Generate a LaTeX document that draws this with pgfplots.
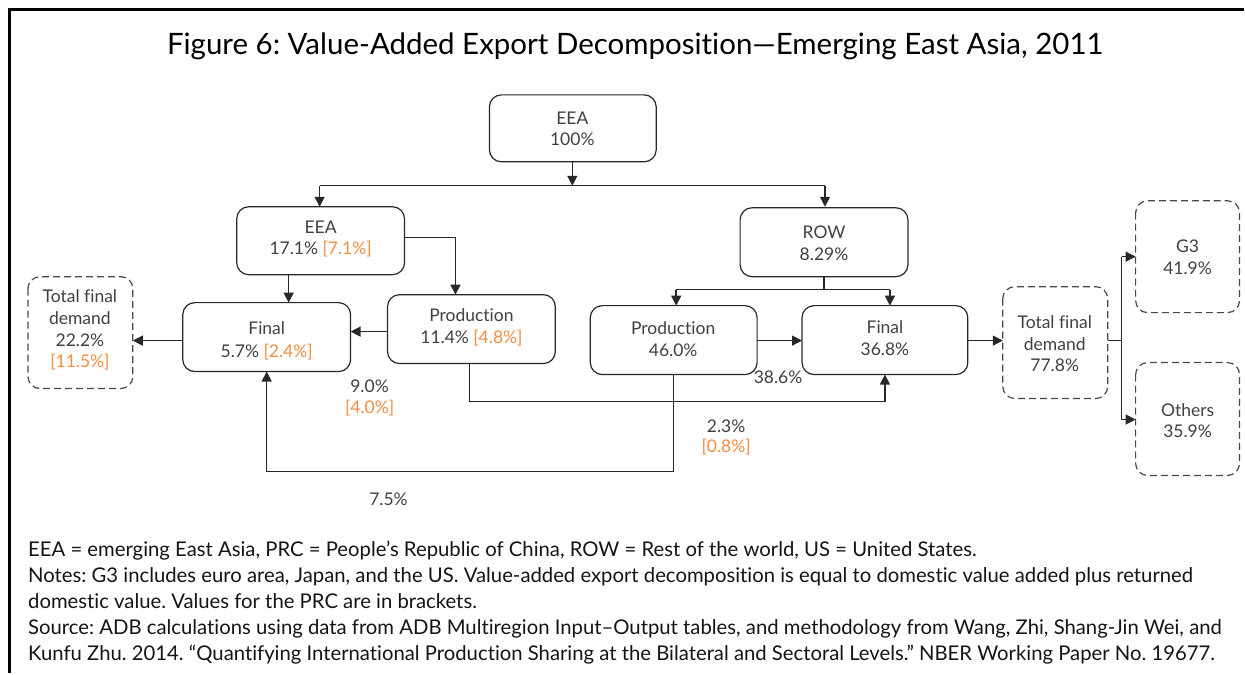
\documentclass[border=0pt]{standalone}
\usepackage{pgfplots}
\pgfplotsset{compat=1.18}
\usepackage{fontspec}
\setmainfont{Lato}[Ligatures={TeX,NoCommon}]
\usetikzlibrary{arrows.meta}
\definecolor{txt}{RGB}{64,64,64}
\definecolor{orng}{RGB}{245,140,65}
\definecolor{ln}{RGB}{40,40,40}
\definecolor{notec}{RGB}{20,20,20}
\frenchspacing
\begin{document}
\begin{tikzpicture}[
 box/.style={draw=ln, line width=1.2pt, rounded corners=12pt},
 dbox/.style={draw=ln!85, line width=1.2pt, rounded corners=12pt, dash pattern=on 7pt off 4pt},
 con/.style={draw=ln, line width=1.4pt},
 arr/.style={con, -{Triangle[length=10pt,width=10pt]}},
 t/.style={anchor=base, inner sep=0pt, text=txt, font=\fontsize{17.5}{20}\selectfont},
 o/.style={t, text=orng},
 nt/.style={anchor=base west, inner sep=0pt, text=notec, font=\fontsize{20.3}{24}\selectfont},
]
\begin{axis}[scale only axis, width=1245pt, height=674pt,
  xmin=0, xmax=1245, ymin=0, ymax=674, y dir=reverse,
  axis lines=none, ticks=none, clip=false]
\path (0,0) rectangle (1245,674);
\draw[line width=3pt, line join=miter] (10,674) -- (10,10) -- (1245,10);
\node[anchor=base, inner sep=0pt, text=black, font=\fontsize{29.5}{32}\selectfont] at (636,55) {Figure 6: Value-Added Export Decomposition—Emerging East Asia, 2011};
% top EEA
\draw[box] (490,95) rectangle (657,162);
\node[t] at (573,125) {EEA};
\node[t] at (573,146) {100\%};
\draw[arr] (573,162) -- (573,186);
\draw[con] (320,186) -- (826,186);
\draw[arr] (320,186) -- (320,207);
\draw[arr] (826,186) -- (826,207);
% left EEA
\draw[box] (237,207) rectangle (405,275);
\node[t] at (321,234) {EEA};
\node[t] at (321,255) {17.1\% \textcolor{orng}{[7.1\%]}};
\draw[arr] (405,238) -| (456,295);
\draw[arr] (289,275) -- (289,303);
% left Final
\draw[box] (183,303) rectangle (351,372);
\node[t] at (267,335) {Final};
\node[t] at (267,358) {5.7\% \textcolor{orng}{[2.4\%]}};
\draw[arr] (183,341) -- (133,341);
% left TFD
\draw[dbox] (28,277) rectangle (133,389);
\node[t] at (80,303) {Total final};
\node[t] at (80,325) {demand};
\node[t] at (80,347) {22.2\%};
\node[o] at (80,368) {[11.5\%]};
% left Production
\draw[box] (388,295) rectangle (556,364);
\node[t] at (472,322) {Production};
\node[t] at (472,344) {11.4\% \textcolor{orng}{[4.8\%]}};
\draw[arr] (388,332) -- (351,332);
\draw[arr] (470,364) |- (886,402) -- (886,375);
\draw[arr] (674,375) |- (267,472) -- (267,372);
% flow labels
\node[t] at (370,393) {9.0\%};
\node[o] at (370,414) {[4.0\%]};
\node[t] at (389,506) {7.5\%};
\node[t] at (727,433) {2.3\%};
\node[o] at (727,453) {[0.8\%]};
\node[t] at (779,384) {38.6\%};
% ROW
\draw[box] (741,208) rectangle (909,277);
\node[t] at (825,239) {ROW};
\node[t] at (825,261) {8.29\%};
\draw[con] (825,277) -- (825,290);
\draw[con] (677,290) -- (891,290);
\draw[arr] (677,290) -- (677,306);
\draw[arr] (891,290) -- (891,306);
% right Production
\draw[box] (591,306) rectangle (758,375);
\node[t] at (674,335) {Production};
\node[t] at (674,357) {46.0\%};
\draw[arr] (758,341) -- (803,341);
% right Final
\draw[box] (803,306) rectangle (969,375);
\node[t] at (886,334) {Final};
\node[t] at (886,356) {36.8\%};
\draw[arr] (969,341) -- (1004,341);
% right TFD
\draw[dbox] (1004,287) rectangle (1109,399);
\node[t] at (1056,329) {Total final};
\node[t] at (1056,351) {demand};
\node[t] at (1056,372) {77.8\%};
\draw[con] (1109,341) -- (1123,341);
\draw[con] (1123,257) -- (1123,420);
\draw[arr] (1123,257) -- (1137,257);
\draw[arr] (1123,420) -- (1137,420);
% G3, Others
\draw[dbox] (1137,201) rectangle (1241,313);
\node[t] at (1189,253) {G3};
\node[t] at (1189,275) {41.9\%};
\draw[dbox] (1137,363) rectangle (1241,476);
\node[t] at (1189,417) {Others};
\node[t] at (1189,438) {35.9\%};
% notes
\node[nt] at (28,557) {EEA = emerging East Asia, PRC = People’s Republic of China, ROW = Rest of the world, US = United States.};
\node[nt] at (28,583) {Notes: G3 includes euro area, Japan, and the US. Value-added export decomposition is equal to domestic value added plus returned};
\node[nt] at (28,609) {domestic value. Values for the PRC are in brackets.};
\node[nt] at (28,635) {Source: ADB calculations using data from ADB Multiregion Input–Output tables, and methodology from Wang, Zhi, Shang-Jin Wei, and};
\node[nt] at (28,661) {Kunfu Zhu. 2014. “Quantifying International Production Sharing at the Bilateral and Sectoral Levels.” NBER Working Paper No. 19677.};
\end{axis}
\end{tikzpicture}
\end{document}
